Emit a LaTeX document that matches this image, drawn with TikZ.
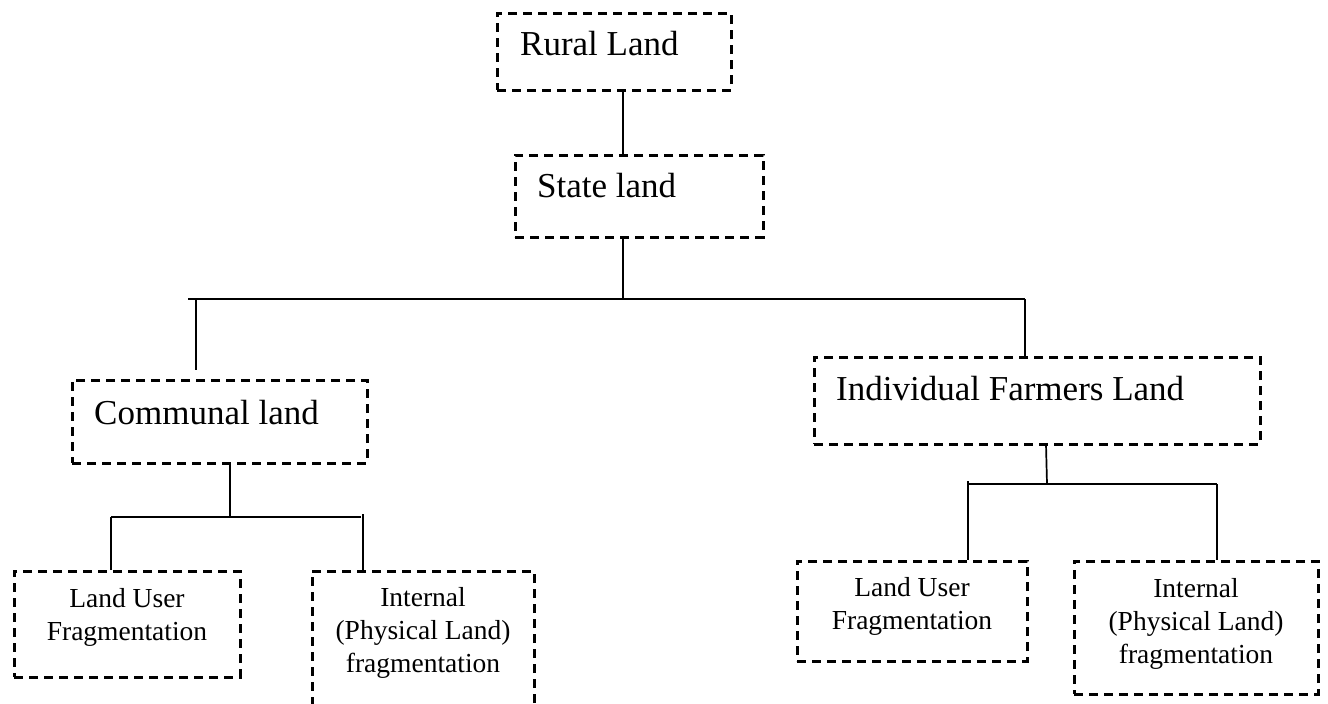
\documentclass[tikz,border=0pt]{standalone}
\usepackage{fontspec}
\setmainfont{Liberation Serif}
\begin{document}
\begin{tikzpicture}[x=1pt,y=-1pt,
  dbox/.style={draw=black, line width=3pt, dash pattern=on 9pt off 6pt, rectangle, inner sep=0pt},
  conn/.style={draw=black, line width=1.7pt},
  bigtxt/.style={anchor=base west, inner sep=0pt, font=\fontsize{35}{40}\selectfont},
  smalltxt/.style={anchor=base, inner sep=0pt, align=center, font=\fontsize{27.5}{33}\selectfont}]
\useasboundingbox[fill=white] (0,0) rectangle (1328,704);
\begin{scope}
\clip (0,0) rectangle (1328,704);
% boxes
\node[dbox, minimum width=234pt, minimum height=77pt] (rural) at (614,51.5) {};
\node[dbox, minimum width=248pt, minimum height=82pt] (state) at (639,196) {};
\node[dbox, minimum width=295pt, minimum height=83pt] (communal) at (219.5,421.5) {};
\node[dbox, minimum width=446pt, minimum height=87pt] (indiv) at (1037,400.5) {};
\node[dbox, minimum width=226pt, minimum height=106pt] (luf1) at (127,624) {};
\node[dbox, minimum width=222pt, minimum height=150pt] (int1) at (423,646) {};
\node[dbox, minimum width=230pt, minimum height=100pt] (luf2) at (912,611) {};
\node[dbox, minimum width=244pt, minimum height=133pt] (int2) at (1196,627.5) {};
\end{scope}
% texts (anchor base = baseline of last line)
\node[bigtxt] (trural) at (520,55) {Rural Land};
\node[bigtxt] (tstate) at (537,197) {State land};
\node[bigtxt] (tcomm) at (94,424) {Communal land};
\node[bigtxt] (tindiv) at (836,400) {Individual Farmers Land};
\node[smalltxt] (tluf1) at (127,640) {Land User\\Fragmentation};
\node[smalltxt] (tint1) at (423,672) {Internal\\(Physical Land)\\fragmentation};
\node[smalltxt] (tluf2) at (912,629) {Land User\\Fragmentation};
\node[smalltxt] (tint2) at (1196,663) {Internal\\(Physical Land)\\fragmentation};
% junction coordinates
\coordinate (xa) at (623,0);
\coordinate (busL) at (188,299);
\coordinate (busR) at (1025,299);
\coordinate (busM) at (623,299);
\coordinate (dropL) at (196,299);
\coordinate (dropLend) at (196,370);
\coordinate (cA) at (230,517);
\coordinate (cL) at (111,517);
\coordinate (cR) at (361,517);
\coordinate (cR2) at (363,514);
\coordinate (iA) at (1047,484);
\coordinate (iL) at (968,484);
\coordinate (iL2) at (968,481);
\coordinate (iR) at (1217,484);
% connectors
\draw[conn] (rural.south -| xa) -- (state.north -| xa);
\draw[conn] (state.south -| xa) -- (busM);
\draw[conn] (busL) -- (busR);
\draw[conn] (dropL) -- (dropLend);
\draw[conn] (busR) -- (indiv.north -| busR);
\draw[conn] (communal.south -| cA) -- (cA);
\draw[conn] (cL) -- (cR);
\draw[conn] (cL) -- (luf1.north -| cL);
\draw[conn] (cR2) -- (int1.north -| cR2);
\draw[conn] (1046,444) -- (iA);
\draw[conn] (iL) -- (iR);
\draw[conn] (iL2) -- (luf2.north -| iL);
\draw[conn] (iR) -- (int2.north -| iR);
\end{tikzpicture}
\end{document}
